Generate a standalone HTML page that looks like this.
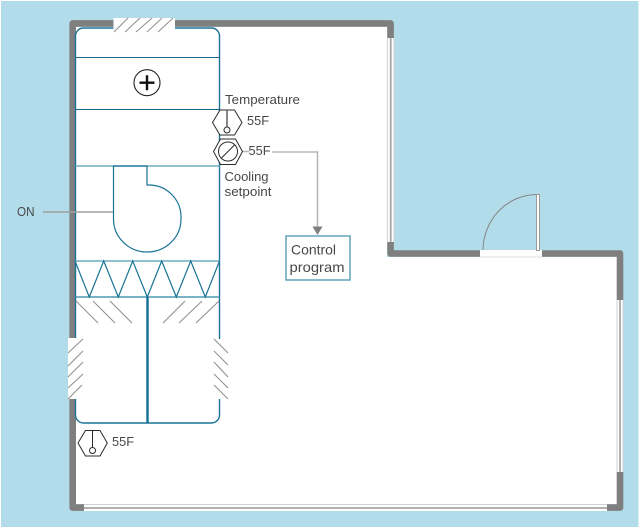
<!DOCTYPE html>
<html>
<head>
<meta charset="utf-8">
<style>
html,body{margin:0;padding:0;background:#fff;}
svg{display:block;}
text{font-family:"Liberation Sans",sans-serif;font-size:12.5px;fill:#484848;}
</style>
</head>
<body>
<svg width="640" height="528" viewBox="0 0 640 528" xmlns="http://www.w3.org/2000/svg">
<rect x="1" y="1" width="637.500" height="526" fill="#b2dcea"/>
<!-- interior -->
<path d="M76 27H387V257H617V504H76Z" fill="#fff"/>
<!-- walls -->
<g fill="none" stroke="#7f7f7f" stroke-width="6.6" stroke-linejoin="round">
<path d="M72.7 338V23.4H390.6V38"/>
<path d="M72.7 399V507.6H84"/>
<path d="M390.6 242V253.5H480"/>
<path d="M542 253.5H620V300"/>
<path d="M620 472V507.6H607"/>
</g>
<!-- top opening -->
<rect x="113.5" y="18" width="61.5" height="10" fill="#fff"/>
<!-- left opening -->
<rect x="68" y="338" width="8" height="61" fill="#fff"/>
<!-- windows -->
<rect x="387" y="38" width="7" height="204" fill="#fff"/>
<path d="M387.3 38V242M394 38V242" stroke="#d0d0d0" stroke-width="1" fill="none"/>
<path d="M390.7 38V242" stroke="#a5a5a5" stroke-width="1.8"/>
<rect x="617" y="300" width="6" height="172" fill="#fff"/>
<path d="M617 300V472M623 300V472" stroke="#d0d0d0" stroke-width="1" fill="none"/>
<path d="M620 300V472" stroke="#b0b0b0" stroke-width="2"/>
<rect x="84" y="504" width="523" height="7" fill="#fff"/>
<path d="M84 504.5H607" stroke="#d0d0d0" stroke-width="1"/>
<path d="M84 508H607" stroke="#b0b0b0" stroke-width="2"/>
<!-- door -->
<rect x="480" y="250" width="62" height="7" fill="#fff"/>
<path d="M480 257H542" stroke="#ddd" stroke-width="1"/>
<path d="M483 250A54 56 0 0 1 537 194.5" fill="none" stroke="#858585" stroke-width="1"/>
<rect x="536.5" y="194.5" width="3" height="56" fill="#fff" stroke="#999" stroke-width="1"/>
<!-- unit -->
<g fill="none" stroke="#1a7395" stroke-width="1">
<path d="M75.500 338V36A8 8 0 0 1 83.500 28H113.500M175 28H211.500A8 8 0 0 1 219.500 36V339M219.500 399V415A8 8 0 0 1 211.500 423H83.500A8 8 0 0 1 75.500 415V399" stroke-width="1.400"/>
<path d="M75.500 57.500H219.500M75.500 109.500H219.500" stroke="#17688a" stroke-width="1.100"/>
<path d="M75.500 166H219.500" stroke="#6eaec4" stroke-width="1.600"/>
<path d="M113.500 166H147V185H149A32 32 0 0 1 181 217V219A33.700 33 0 0 1 113.500 219Z" stroke-width="1.200"/>
<path d="M75.500 261H219.500" stroke="#6eaec4" stroke-width="1.600"/>
<path d="M75.500 297H219.500" stroke="#4f98b3" stroke-width="1.400"/>
<path d="M75 261L89.300 297L103.700 261L118.300 297L132.700 261L147.300 297L161.700 261L176.300 297L190.700 261L205.300 297L219.500 261" stroke-width="1.200"/>
<path d="M147.500 297V423" stroke="#0f6f96" stroke-width="2.400"/>
</g>
<!-- hatching -->
<g stroke="#8e8e8e" stroke-width="1" fill="none">
<path d="M114 32L128 18M125 32L140 18M136 32L152 18M147 32L162 18M158 32L173 18"/>
<path d="M76 301L98 323M93 301L115 323M110 301L132 323"/>
<path d="M185 301L163 323M202 301L179 323M219 301L196 323"/>
<path d="M68 353L83 339M68 366L83 351M68 377L83 362M68 388L83 374M68 399L82 385"/>
<path d="M214 339L228 353M214 351L228 365M214 362L228 377M214 374L228 388M214 385L228 399"/>
</g>
<!-- coil plus -->
<circle cx="147" cy="82.700" r="13" fill="#fff" stroke="#222" stroke-width="1.100"/>
<path d="M139.500 82.700H154.500M147 75.200V90.200" stroke="#111" stroke-width="2.400"/>
<!-- sensors -->
<g fill="#fff" stroke="#2b2b2b" stroke-width="1">
<path d="M212.500 122.500L220 110H234.500L242 122.500L234.500 135H220Z"/>
<path d="M227 110V127" stroke="#555" stroke-width="1.400"/>
<circle cx="227" cy="130" r="3"/>
<path d="M213.500 151.500L220.500 139H235.500L242.500 151.500L235.500 164.500H220.500Z"/>
<circle cx="228" cy="151.500" r="9.500"/>
<path d="M221.500 158L234.500 145"/>
<path d="M78 443L85.500 430.500H100L107.300 443L100 456H85.500Z"/>
<path d="M92.500 430.500V447.500"/>
<circle cx="92.500" cy="450.500" r="3"/>
</g>
<!-- connectors -->
<g fill="none" stroke="#b5b5b5" stroke-width="1.500">
<path d="M243 151.500H249"/>
<path d="M272 152H317.500V227"/>
<path d="M43 212H113" stroke="#a0a0a0"/>
</g>
<path d="M312.500 226.500H322.500L317.500 235Z" fill="#7f7f7f"/>
<!-- control box -->
<rect x="286" y="236" width="64" height="44" fill="#fff" stroke="#5fa3bb" stroke-width="1.500"/>
<!-- text -->
<text x="225" y="104" textLength="75" lengthAdjust="spacingAndGlyphs">Temperature</text>
<text x="247" y="125" textLength="22" lengthAdjust="spacingAndGlyphs">55F</text>
<text x="248.500" y="155" textLength="22" lengthAdjust="spacingAndGlyphs">55F</text>
<text x="224.500" y="181" textLength="44" lengthAdjust="spacingAndGlyphs">Cooling</text>
<text x="224.500" y="196" textLength="47" lengthAdjust="spacingAndGlyphs">setpoint</text>
<text x="291" y="254.500" textLength="45" lengthAdjust="spacingAndGlyphs" style="font-size:14px">Control</text>
<text x="289.500" y="272" textLength="55" lengthAdjust="spacingAndGlyphs" style="font-size:14px">program</text>
<text x="17" y="216" textLength="17.500" lengthAdjust="spacingAndGlyphs">ON</text>
<text x="112" y="446" textLength="22" lengthAdjust="spacingAndGlyphs">55F</text>
</svg>
</body>
</html>
